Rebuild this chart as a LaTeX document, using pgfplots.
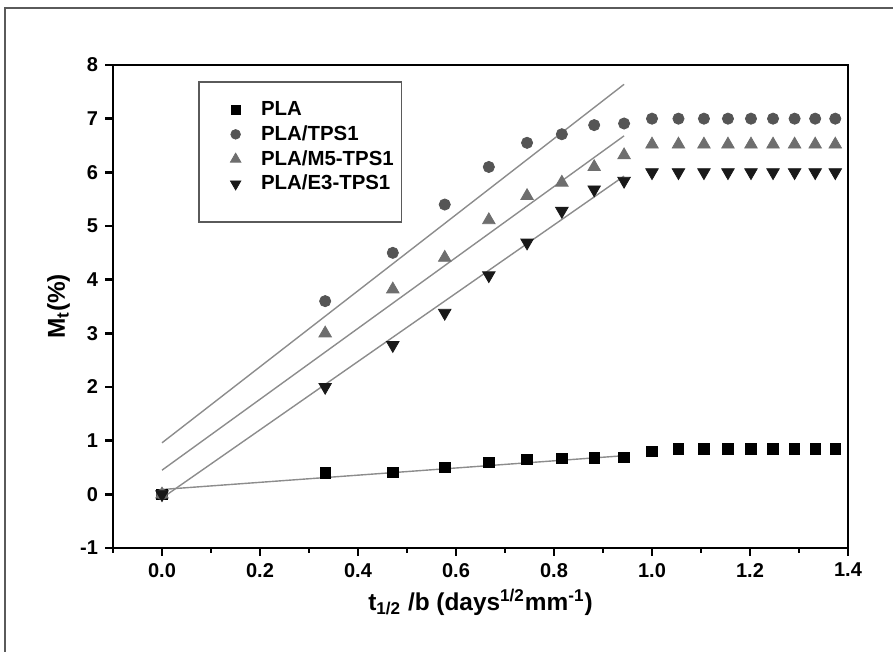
\documentclass[border=0pt]{standalone}
\usepackage{fontspec}
\setmainfont{Liberation Sans}
\usepackage{pgfplots}
\pgfplotsset{compat=1.18}

\definecolor{circgray}{RGB}{85,85,85}
\definecolor{trigray}{RGB}{110,110,110}
\definecolor{downblk}{RGB}{25,25,25}
\definecolor{fitgray}{RGB}{140,140,140}
\definecolor{framegray}{RGB}{90,90,90}

\begin{document}
\begin{tikzpicture}
% outer frame (open at right and bottom, as in the scan)
\draw[framegray, line width=0.8pt] (2.5pt,0pt) -- (2.5pt,322pt) -- (446.5pt,322pt);
\begin{axis}[
    at={(56.5pt,52pt)}, anchor=south west,
    scale only axis, width=367.5pt, height=241.5pt,
    xmin=-0.1, xmax=1.4, ymin=-1, ymax=8,
    axis line style={line width=1.4pt},
    xtick={0,0.2,...,1.4}, minor xtick={-0.1,0.1,0.3,...,1.3},
    ytick={-1,0,...,8},
    tick align=outside, tick pos=left,
    major tick length=4pt, minor tick length=2.5pt,
    every tick/.style={black, line width=1.2pt},
    /pgf/number format/assume math mode=true,
    xticklabel style={font=\bfseries\fontsize{10}{12}\selectfont,
        /pgf/number format/.cd, fixed, fixed zerofill, precision=1},
    yticklabel style={font=\bfseries\fontsize{10}{12}\selectfont},
    xlabel={t\textsubscript{1/2} /b (days\textsuperscript{1/2}mm\textsuperscript{-1})},
    ylabel={M\textsubscript{t}(\%)},
    xlabel style={font=\bfseries\fontsize{12.2}{15}\selectfont,
        at={(axis description cs:0.5,-0.112)}, anchor=center},
    ylabel style={font=\bfseries\fontsize{12.2}{15}\selectfont,
        at={(axis description cs:-0.074,0.5)}, anchor=center, rotate=0},
    legend cell align=left,
    legend image code/.code={%
        \path (0cm,0cm) (0.52cm,0cm);
        \draw[#1] plot coordinates {(0.15cm,0cm)};},
    legend style={draw=none, fill=none, at={(rel axis cs:0.146,0.942)}, anchor=north west,
        font=\bfseries\fontsize{10.2}{12}\selectfont, row sep=-0.5pt},
]
% fitted lines
\addplot[fitgray, line width=0.7pt, forget plot] coordinates {(0,0.09) (0.943,0.72)};
\addplot[fitgray, line width=0.7pt, forget plot] coordinates {(0,0.96) (0.943,7.64)};
\addplot[fitgray, line width=0.7pt, forget plot] coordinates {(0,0.45) (0.943,6.68)};
\addplot[fitgray, line width=0.7pt, forget plot] coordinates {(0,-0.07) (0.943,5.93)};

\addplot[only marks, mark=square*, mark size=2.6pt, black,
    legend image post style={mark size=2.2pt}] coordinates {
(0,0) (0.333,0.40) (0.471,0.41) (0.577,0.50) (0.667,0.60) (0.745,0.65)
(0.816,0.67) (0.882,0.68) (0.943,0.69) (1.000,0.80) (1.054,0.85) (1.106,0.85)
(1.155,0.85) (1.202,0.85) (1.247,0.85) (1.291,0.85) (1.333,0.85) (1.374,0.85)};
\addlegendentry{PLA}
\addplot[only marks, mark=*, mark size=2.8pt, circgray,
    legend image post style={mark size=2.4pt}] coordinates {
(0,0) (0.333,3.60) (0.471,4.50) (0.577,5.40) (0.667,6.10) (0.745,6.55)
(0.816,6.71) (0.882,6.88) (0.943,6.91) (1.000,7.00) (1.054,7.00) (1.106,7.00)
(1.155,7.00) (1.202,7.00) (1.247,7.00) (1.291,7.00) (1.333,7.00) (1.374,7.00)};
\addlegendentry{PLA/TPS1}
\addplot[only marks, mark=triangle*, mark size=3.6pt, trigray,
    legend image post style={mark size=3pt}] coordinates {
(0,0) (0.333,3.00) (0.471,3.82) (0.577,4.41) (0.667,5.11) (0.745,5.56)
(0.816,5.81) (0.882,6.10) (0.943,6.32) (1.000,6.52) (1.054,6.52) (1.106,6.52)
(1.155,6.52) (1.202,6.52) (1.247,6.52) (1.291,6.52) (1.333,6.52) (1.374,6.52)};
\addlegendentry{PLA/M5-TPS1}
\addplot[only marks, mark=triangle*, mark options={rotate=180}, mark size=3.6pt, downblk,
    legend image post style={mark size=3pt}] coordinates {
(0,0) (0.333,2.00) (0.471,2.78) (0.577,3.38) (0.667,4.08) (0.745,4.69)
(0.816,5.28) (0.882,5.68) (0.943,5.84) (1.000,6.00) (1.054,6.00) (1.106,6.00)
(1.155,6.00) (1.202,6.00) (1.247,6.00) (1.291,6.00) (1.333,6.00) (1.374,6.00)};
\addlegendentry{PLA/E3-TPS1}

% legend frame
\draw[framegray, line width=0.6pt] (rel axis cs:0.117,0.965) rectangle (rel axis cs:0.393,0.675);
\end{axis}
\pgfresetboundingbox
\path (0pt,0pt) rectangle (446.5pt,326pt);
\end{tikzpicture}
\end{document}
